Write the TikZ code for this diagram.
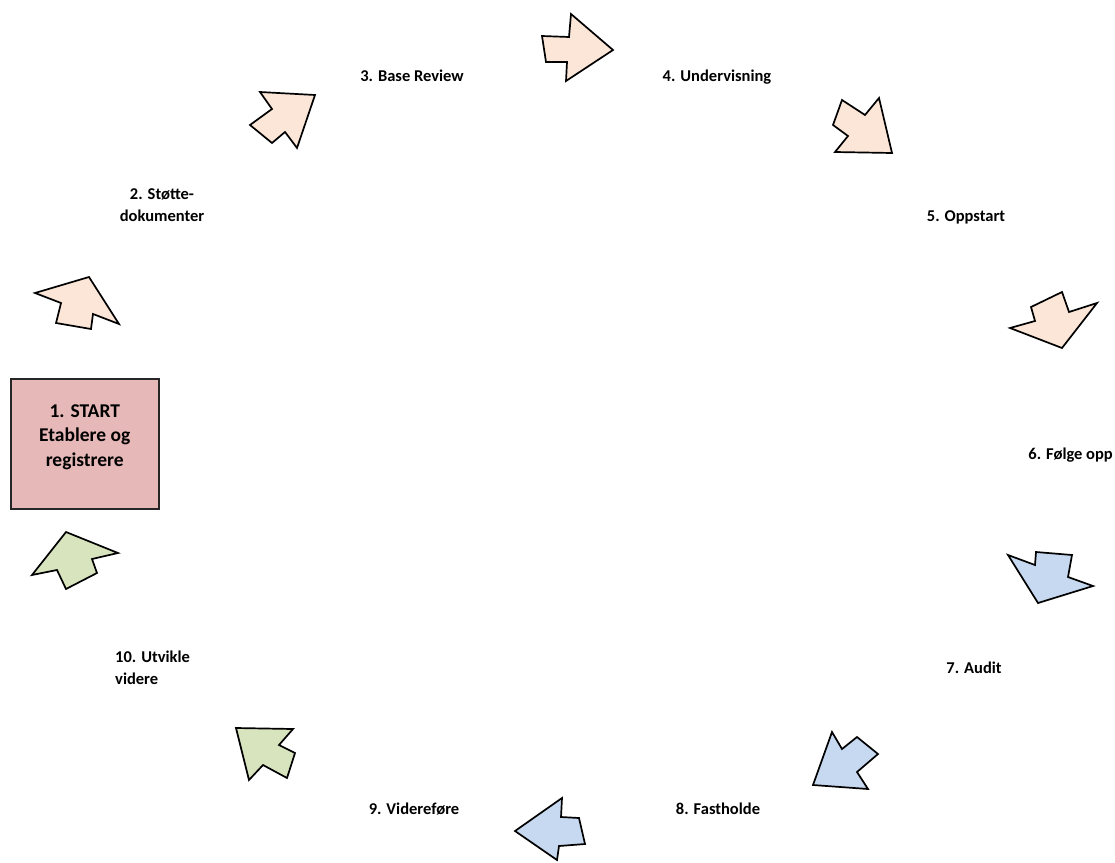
\documentclass[tikz,border=0pt]{standalone}
\usepackage{fontspec}
\setmainfont{Carlito}
\usepackage{tikz}
\usetikzlibrary{positioning}
\definecolor{peach}{RGB}{252,230,215}
\definecolor{skyb}{RGB}{198,217,241}
\definecolor{sage}{RGB}{215,228,189}
\definecolor{rose}{RGB}{230,184,183}
\tikzset{
  barrow/.style={draw=black, line width=1.7pt, line join=miter},
  lab/.style={font=\fontsize{16.5}{22.5}\selectfont\bfseries, align=center, inner sep=0pt},
  startbox/.style={draw=black!85, line width=1.5pt, fill=rose, align=center,
    font=\fontsize{19.5}{24.5}\selectfont\bfseries, minimum width=148pt, minimum height=130pt}
}
\begin{document}
\begin{tikzpicture}[x=1pt, y=-1pt]
\useasboundingbox (0,0) rectangle (1115,862);
% ---- start box ----
\node[startbox, anchor=north west] (start) at (10,378)
  {1. START\\Etablere og\\registrere\\[-8pt]};
% ---- step labels ----
\node[lab] (s2) at (162,205) {2. Støtte-\\dokumenter};
\node[lab] (s3) at (412,76) {3. Base Review};
\node[lab] (s4) at (717,77) {4. Undervisning};
\node[lab] (s5) at (966,217) {5. Oppstart};
\node[lab, anchor=east] (s6) at (1113,455) {6. Følge opp};
\node[lab] (s7) at (974,668) {7. Audit};
\node[lab] (s8) at (718,809) {8. Fastholde};
\node[lab] (s9) at (414,809) {9. Videreføre};
\node[lab, align=left, anchor=west] (s10) at (115,668) {10. Utvikle\\videre};
% ---- block arrows round the circle ----
\draw[barrow, fill=peach] (35,293) -- (89,277) -- (119,324) -- (93,314) -- (91,329)
  -- (56,323) -- (61,303) -- cycle;
\draw[barrow, fill=peach] (260,92) -- (315,95) -- (297,148) -- (285,132) -- (272,143)
  -- (250,125) -- (272,109) -- cycle;
\draw[barrow, fill=peach] (571,14) -- (613,50) -- (566,81) -- (567,62) -- (546,62)
  -- (542,36) -- (569,37) -- cycle;
\draw[barrow, fill=peach] (842,100) -- (865,115) -- (879,98) -- (892,153) -- (835,152)
  -- (848,136) -- (833,125) -- cycle;
\draw[barrow, fill=peach] (1062,292) -- (1069,312) -- (1097,303) -- (1062,348)
  -- (1010,328) -- (1035,321) -- (1031,307) -- cycle;
\draw[barrow, fill=skyb] (1008,555) -- (1035,565) -- (1036,552) -- (1072,555)
  -- (1068,577) -- (1093,586) -- (1038,603) -- cycle;
\draw[barrow, fill=skyb] (832,732) -- (842,749) -- (857,737) -- (878,754) -- (857,772)
  -- (868,789) -- (813,785) -- cycle;
\draw[barrow, fill=skyb] (562,798) -- (561,817) -- (579,818) -- (585,844) -- (559,846)
  -- (557,860) -- (515,831) -- cycle;
\draw[barrow, fill=sage] (236,728) -- (293,729) -- (279,745) -- (295,753) -- (287,778)
  -- (263,765) -- (249,780) -- cycle;
\draw[barrow, fill=sage] (66,532) -- (118,553) -- (92,559) -- (97,573) -- (66,589)
  -- (57,570) -- (32,575) -- cycle;
\end{tikzpicture}
\end{document}
